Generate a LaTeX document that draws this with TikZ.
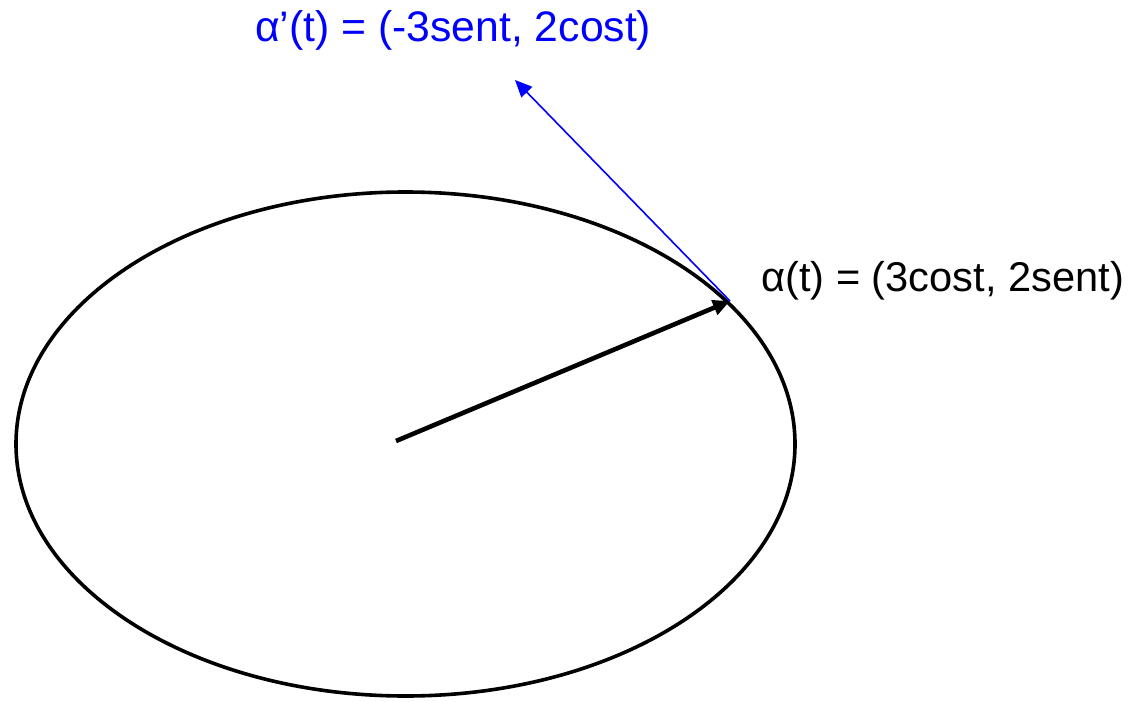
\documentclass[tikz,border=0pt]{standalone}
\usepackage{fontspec}
\setmainfont{Liberation Sans}
\usetikzlibrary{arrows.meta}
\begin{document}
\begin{tikzpicture}[x=1pt,y=-1pt,
  lbl/.style={inner sep=0pt, anchor=base west, font=\fontsize{42}{50}\selectfont},
  vec/.style={-{Triangle[length=17pt,width=15pt]}}]
\useasboundingbox (0,0) rectangle (1137,701);
\coordinate (O) at (396,441);
\coordinate (P) at (730,301);
\coordinate (T) at (515,80);
\draw[line width=3.6pt] (405.5,444) ellipse [x radius=389.5, y radius=252];
\draw[line width=4.6pt, vec] (O) -- (P);
\draw[blue, line width=1.6pt, vec] (P) -- (T);
\node[lbl, font=\fontsize{41.6}{50}\selectfont] (a) at (761,291) {α(t) = (3cost, 2sent)};
\node[lbl, text=blue, font=\fontsize{42.7}{50}\selectfont] (d) at (255,42) {α’(t) = (-3sent, 2cost)};
\end{tikzpicture}
\end{document}
